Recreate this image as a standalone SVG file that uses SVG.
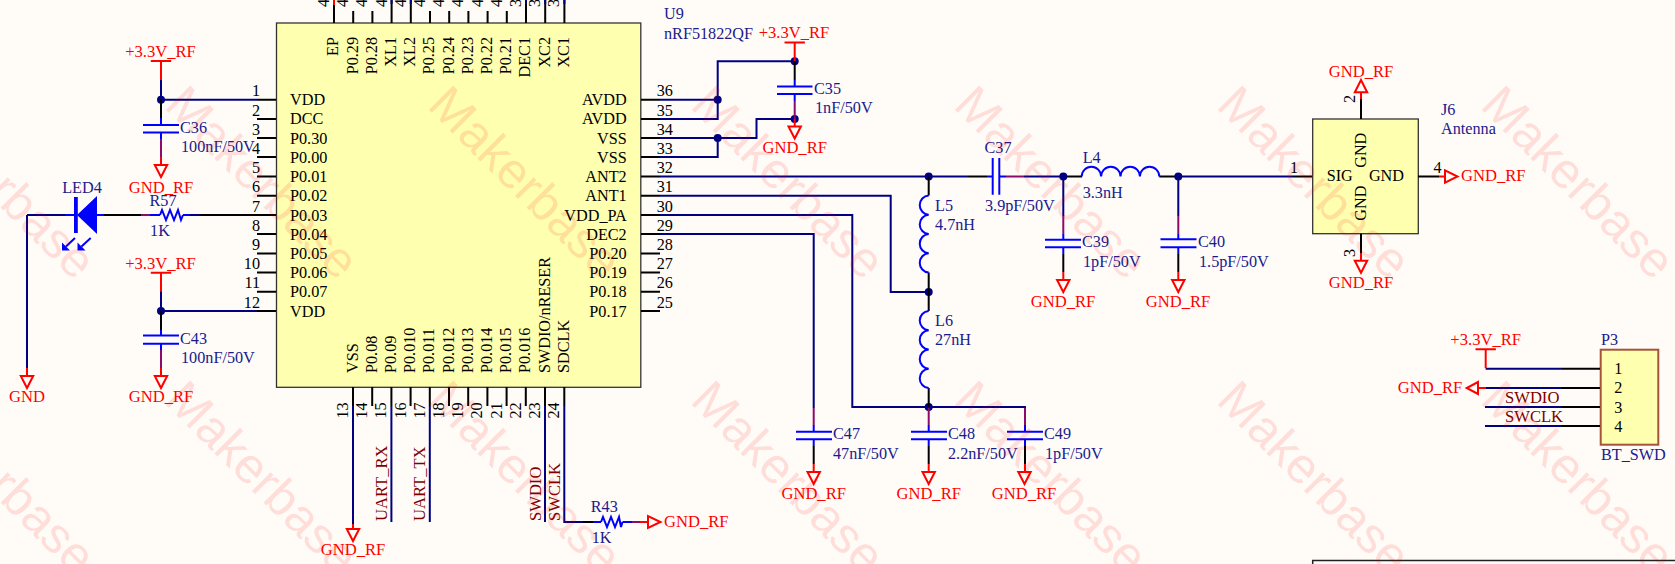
<svg xmlns="http://www.w3.org/2000/svg" width="1675" height="564" viewBox="0 0 1675 564">
<style>
text{font-family:"Liberation Serif","Times New Roman",serif;font-size:16.2px}
.n{fill:#000}
.d{fill:#1a1a8c}
.r{fill:#f00;font-size:16.6px}
.l{fill:#800000;font-size:16.6px}
.e{text-anchor:end}
.c{text-anchor:middle}
.wm{font-family:"Liberation Sans",Arial,sans-serif;font-size:50px;fill:#f00;fill-opacity:.12}
.W,.P,.B,.M,.R,.tri{fill:none;stroke-width:2}
.W{stroke:#000080}
.P{stroke:#000}
.B{stroke:#00f}
.M{stroke:#8b0a6a}
.R,.tri{stroke:#f00}
.box{fill:#ffffb0;stroke:#333;stroke-width:1.3}
.j{fill:#000080}
.f{fill:#00f}
</style>
<defs>
<g id="gnd"><path class="tri" d="M-6.2 0H6.2L0 12Z"/></g>
<g id="vcc"><path class="R" d="M-10.2 0H10.2M0 0V19"/></g>
</defs>
<rect width="1675" height="564" fill="#fffcf8"/>

<g id="U9">
<rect class="box" x="276.5" y="23" width="364.3" height="364.3"/>
<path class="P" d="M276 99.7H257M276 119H257M276 138H257M276 157H257M276 176.5H257M276 195.7H257M276 215H257M276 234H257M276 253.5H257M276 272.5H257M276 291.7H257M276 311H257"/>
<path class="P" d="M641 99.7H660M641 119H660M641 138H660M641 157H660M641 176.5H660M641 195.7H660M641 215H660M641 234H660M641 253.5H660M641 272.5H660M641 291.7H660M641 311H660"/>
<path class="P" d="M334 23V0M353.2 23V11M372.4 23V11M391.6 23V0M410.8 23V0M430 23V11M449.2 23V11M468.4 23V11M487.6 23V11M506.8 23V11M526 23V0M545.2 23V0M564.4 23V0"/>
<path class="R" d="M334 0V5"/>
<path class="W" d="M391.6 0V4M410.8 0V4M526 0V4M545.2 0V4M564.4 0V4"/>
<path class="P" d="M353 387V406M372.2 387V406M391.4 387V406M410.6 387V406M429.8 387V406M449 387V406M468.2 387V406M487.4 387V406M506.6 387V406M525.8 387V406M545 387V406M564.3 387V406"/>
<text class="d" x="664" y="19">U9</text><text class="d" x="664" y="39">nRF51822QF</text>
<g class="n">
<text x="290" y="105">VDD</text><text x="290" y="124.3">DCC</text><text x="290" y="143.5">P0.30</text><text x="290" y="162.5">P0.00</text><text x="290" y="182">P0.01</text><text x="290" y="201">P0.02</text><text x="290" y="220.5">P0.03</text><text x="290" y="239.5">P0.04</text><text x="290" y="259">P0.05</text><text x="290" y="278">P0.06</text><text x="290" y="297">P0.07</text><text x="290" y="316.5">VDD</text>
<text class="e" x="626.7" y="105">AVDD</text><text class="e" x="626.7" y="124.3">AVDD</text><text class="e" x="626.7" y="143.5">VSS</text><text class="e" x="626.7" y="162.5">VSS</text><text class="e" x="626.7" y="182">ANT2</text><text class="e" x="626.7" y="201">ANT1</text><text class="e" x="626.7" y="220.5">VDD_PA</text><text class="e" x="626.7" y="239.5">DEC2</text><text class="e" x="626.7" y="259">P0.20</text><text class="e" x="626.7" y="278">P0.19</text><text class="e" x="626.7" y="297">P0.18</text><text class="e" x="626.7" y="316.5">P0.17</text>
<text class="e" x="260" y="96">1</text><text class="e" x="260" y="115.5">2</text><text class="e" x="260" y="134.5">3</text><text class="e" x="260" y="153.5">4</text><text class="e" x="260" y="173">5</text><text class="e" x="260" y="192">6</text><text class="e" x="260" y="211.5">7</text><text class="e" x="260" y="230.5">8</text><text class="e" x="260" y="250">9</text><text class="e" x="260" y="269">10</text><text class="e" x="260" y="288">11</text><text class="e" x="260" y="307.5">12</text>
<text x="656.7" y="96">36</text><text x="656.7" y="115.5">35</text><text x="656.7" y="134.5">34</text><text x="656.7" y="153.5">33</text><text x="656.7" y="173">32</text><text x="656.7" y="192">31</text><text x="656.7" y="211.5">30</text><text x="656.7" y="230.5">29</text><text x="656.7" y="250">28</text><text x="656.7" y="269">27</text><text x="656.7" y="288">26</text><text x="656.7" y="307.5">25</text>
<text class="e" transform="translate(338.3 37) rotate(-90)">EP</text><text class="e" transform="translate(357.5 37) rotate(-90)">P0.29</text><text class="e" transform="translate(376.7 37) rotate(-90)">P0.28</text><text class="e" transform="translate(395.9 37) rotate(-90)">XL1</text><text class="e" transform="translate(415.1 37) rotate(-90)">XL2</text><text class="e" transform="translate(434.3 37) rotate(-90)">P0.25</text><text class="e" transform="translate(453.5 37) rotate(-90)">P0.24</text><text class="e" transform="translate(472.7 37) rotate(-90)">P0.23</text><text class="e" transform="translate(491.9 37) rotate(-90)">P0.22</text><text class="e" transform="translate(511.1 37) rotate(-90)">P0.21</text><text class="e" transform="translate(530.3 37) rotate(-90)">DEC1</text><text class="e" transform="translate(549.5 37) rotate(-90)">XC2</text><text class="e" transform="translate(568.7 37) rotate(-90)">XC1</text>
<text transform="translate(357.6 373) rotate(-90)">VSS</text><text transform="translate(376.8 373) rotate(-90)">P0.08</text><text transform="translate(396 373) rotate(-90)">P0.09</text><text transform="translate(415.2 373) rotate(-90)">P0.010</text><text transform="translate(434.4 373) rotate(-90)">P0.011</text><text transform="translate(453.6 373) rotate(-90)">P0.012</text><text transform="translate(472.8 373) rotate(-90)">P0.013</text><text transform="translate(492 373) rotate(-90)">P0.014</text><text transform="translate(511.2 373) rotate(-90)">P0.015</text><text transform="translate(530.4 373) rotate(-90)">P0.016</text><text transform="translate(549.6 373) rotate(-90)">SWDIO/nRESER</text><text transform="translate(568.9 373) rotate(-90)">SDCLK</text>
<text transform="translate(348 418.5) rotate(-90)">13</text><text transform="translate(367.2 418.5) rotate(-90)">14</text><text transform="translate(386.4 418.5) rotate(-90)">15</text><text transform="translate(405.6 418.5) rotate(-90)">16</text><text transform="translate(424.8 418.5) rotate(-90)">17</text><text transform="translate(444 418.5) rotate(-90)">18</text><text transform="translate(463.2 418.5) rotate(-90)">19</text><text transform="translate(482.4 418.5) rotate(-90)">20</text><text transform="translate(501.6 418.5) rotate(-90)">21</text><text transform="translate(520.8 418.5) rotate(-90)">22</text><text transform="translate(540 418.5) rotate(-90)">23</text><text transform="translate(559.3 418.5) rotate(-90)">24</text>
<text transform="translate(329 7) rotate(-90)">4</text><text transform="translate(348.2 7) rotate(-90)">4</text><text transform="translate(367.4 7) rotate(-90)">4</text><text transform="translate(386.6 7) rotate(-90)">4</text><text transform="translate(405.8 7) rotate(-90)">4</text><text transform="translate(425 7) rotate(-90)">4</text><text transform="translate(444.2 7) rotate(-90)">4</text><text transform="translate(463.4 7) rotate(-90)">4</text><text transform="translate(482.6 7) rotate(-90)">4</text><text transform="translate(501.8 7) rotate(-90)">4</text><text transform="translate(521 7) rotate(-90)">3</text><text transform="translate(540.2 7) rotate(-90)">3</text><text transform="translate(559.4 7) rotate(-90)">3</text>
</g>
</g>

<g id="connectors">
<path class="W" d="M161 80V99.7H257M161 291V311H257"/>
<path class="W" d="M660 99.7H717.7M660 119H717.7V61.3H794.7M660 138H756.5V119H794.7M660 157H717.7V138"/>
<path class="W" d="M660 176.5H968M1024 176.5H1063.3M1063.3 176.5V216M1178.3 176.5H1293M1178.3 176.5V216"/>
<path class="P" d="M968 176.5H987M1063.3 176.5H1082M1159.3 176.5H1178.3M1293 176.5H1313"/>
<path class="M" d="M1006 176.5H1024"/>
<path class="W" d="M660 195.7H890.7V292H928.7M660 215H852.3V407H1025V408M660 234H813.7V408"/>
<path class="W" d="M27 215H65M27 215V368M353 406V524M391.4 406V522M429.8 406V522M545 406V522M564.3 406V522H583"/>
<path class="P" d="M583 522H593M104 215H141M200 215H257"/>
<path class="W" d="M190 215H200"/>
<path class="R" d="M27 368V376M353 524V529M640 522H648"/>
<path class="M" d="M141 215H150M632 522H640"/>
<path class="B" d="M150 215H160M183 215H190M593 522H601M622.5 522H632"/>
<path class="W" d="M1485 388H1562M1485 407H1562M1485 426H1562M1485.7 368.7H1562"/>
<path class="R" d="M1478 388H1486"/>
<circle class="j" cx="161" cy="99.7" r="4"/><circle class="j" cx="161" cy="311" r="4"/><circle class="j" cx="717.7" cy="99.7" r="4"/><circle class="j" cx="717.7" cy="138" r="4"/><circle class="j" cx="794.7" cy="61.3" r="4"/><circle class="j" cx="794.7" cy="119" r="4"/><circle class="j" cx="928.7" cy="176.5" r="4"/><circle class="j" cx="1063.3" cy="176.5" r="4"/><circle class="j" cx="1178.3" cy="176.5" r="4"/><circle class="j" cx="928.7" cy="292" r="4"/><circle class="j" cx="928.7" cy="407" r="4"/>
</g>

<g id="C36"><use href="#vcc" x="161" y="61"/><path class="P" d="M161 99.7V118"/><path class="B" d="M161 118V125M161 132.5V139M143 125H179M143 132.5H179"/><path class="M" d="M161 139V157"/><path class="R" d="M161 157V165"/><use href="#gnd" x="161" y="165"/>
<text class="r c" x="160.5" y="57">+3.3V_RF</text><text class="r c" x="161" y="193">GND_RF</text><text class="d" x="180" y="132.5">C36</text><text class="d" x="181" y="152">100nF/50V</text></g>

<g id="C43"><use href="#vcc" x="161" y="272.7"/><path class="P" d="M161 311V330"/><path class="B" d="M161 330V335.5M161 343.7V350M143 335.5H179M143 343.7H179"/><path class="M" d="M161 350V368"/><path class="R" d="M161 368V376"/><use href="#gnd" x="161" y="376"/>
<text class="r c" x="160.5" y="268.5">+3.3V_RF</text><text class="r c" x="161" y="402">GND_RF</text><text class="d" x="180" y="343.6">C43</text><text class="d" x="181" y="363">100nF/50V</text></g>

<g id="LED4"><path class="B" d="M65 215H76M97 215H104"/><rect class="f" x="74" y="197" width="3.8" height="36"/><path class="f" d="M77 215L97 196V234Z"/>
<path class="B" d="M75 238L66 246.5M90.7 238L81.5 246.5"/><path class="f" d="M62 250.5L62 242.5L70 250.5ZM77.5 250.5L77.5 242.5L85.5 250.5Z"/>
<text class="d c" x="82" y="193">LED4</text></g>

<g id="R57"><path class="B" d="M160 215L162 210L166 220L170 210L174 220L178 210L181 220L183 215"/><text class="d c" x="163" y="206">R57</text><text class="d c" x="160" y="236">1K</text></g>

<g id="GND1"><use href="#gnd" x="27" y="376"/><text class="r c" x="27" y="402">GND</text></g>
<g id="GND2"><use href="#gnd" x="353" y="529"/><text class="r c" x="353" y="555">GND_RF</text></g>

<g id="nets"><text class="l" transform="translate(387 521) rotate(-90)">UART_RX</text><text class="l" transform="translate(425.3 521) rotate(-90)">UART_TX</text><text class="l" transform="translate(540.5 521) rotate(-90)">SWDIO</text><text class="l" transform="translate(559.5 521) rotate(-90)">SWCLK</text></g>

<g id="R43"><path class="B" d="M601 522L603 517L607 527L611 517L615 527L619 517L621 527L622.5 522"/><text class="d c" x="604.3" y="512">R43</text><text class="d c" x="601.6" y="543">1K</text>
<path class="tri" d="M648 516V528L660.5 522Z"/><text class="r" x="664" y="527">GND_RF</text></g>

<g id="C35"><use href="#vcc" x="794.7" y="42.5"/><path class="P" d="M794.7 61.3V80"/><path class="B" d="M794.7 80V86.5M794.7 94V101M777 86.5H812.5M777 94H812.5"/><path class="M" d="M794.7 101V119"/><path class="R" d="M794.7 119V126.5"/><use href="#gnd" x="794.7" y="126.5"/>
<text class="r c" x="794" y="38">+3.3V_RF</text><text class="r c" x="794.7" y="152.5">GND_RF</text><text class="d" x="814" y="93.7">C35</text><text class="d" x="815" y="113">1nF/50V</text></g>

<g id="C37"><path class="B" d="M987 176.5H992.7M999.3 176.5H1006M992.7 158V194.7M999.3 158V194.7"/><text class="d c" x="998" y="152.6">C37</text><text class="d" x="985" y="211">3.9pF/50V</text></g>

<g id="L4"><path class="B" d="M1081.7 176.5a9.7 9.7 0 0 1 19.4 0a9.7 9.7 0 0 1 19.4 0a9.7 9.7 0 0 1 19.4 0a9.7 9.7 0 0 1 19.4 0"/><text class="d" x="1082.7" y="162.7">L4</text><text class="d" x="1082.7" y="198">3.3nH</text></g>

<g id="L5"><path class="P" d="M928.7 176.5V195.5M928.7 272.5V292"/><path class="B" d="M928.7 195.5a9.65 9.65 0 0 0 0 19.25a9.65 9.65 0 0 0 0 19.25a9.65 9.65 0 0 0 0 19.25a9.65 9.65 0 0 0 0 19.25"/><text class="d" x="935" y="211">L5</text><text class="d" x="935" y="230">4.7nH</text></g>

<g id="L6"><path class="P" d="M928.7 292V311M928.7 388V407"/><path class="B" d="M928.7 311a9.65 9.65 0 0 0 0 19.25a9.65 9.65 0 0 0 0 19.25a9.65 9.65 0 0 0 0 19.25a9.65 9.65 0 0 0 0 19.25"/><text class="d" x="935" y="326.3">L6</text><text class="d" x="935" y="345">27nH</text></g>

<g id="C39"><path class="M" d="M1063.3 216V234"/><path class="B" d="M1063.3 234V239.7M1063.3 247.3V254M1045 239.7H1081M1045 247.3H1081"/><path class="P" d="M1063.3 254V272"/><path class="R" d="M1063.3 272V280"/><use href="#gnd" x="1063.3" y="280"/><text class="r c" x="1063" y="306.6">GND_RF</text><text class="d" x="1082" y="247">C39</text><text class="d" x="1083" y="267">1pF/50V</text></g>

<g id="C40"><path class="M" d="M1178.3 216V234"/><path class="B" d="M1178.3 234V239.3M1178.3 247.3V254M1160.5 239.3H1196.5M1160.5 247.3H1196.5"/><path class="P" d="M1178.3 254V272"/><path class="R" d="M1178.3 272V280"/><use href="#gnd" x="1178.3" y="280"/><text class="r c" x="1178" y="306.6">GND_RF</text><text class="d" x="1198" y="247">C40</text><text class="d" x="1199" y="267">1.5pF/50V</text></g>

<g id="C47"><path class="M" d="M813.7 408V425"/><path class="B" d="M813.7 425V431.7M813.7 439.3V446M796 431.7H832M796 439.3H832"/><path class="P" d="M813.7 446V464"/><path class="R" d="M813.7 464V472"/><use href="#gnd" x="813.7" y="472"/><text class="r c" x="813.7" y="499">GND_RF</text><text class="d" x="833" y="439">C47</text><text class="d" x="833" y="459">47nF/50V</text></g>

<g id="C48"><path class="M" d="M928.7 408V425"/><path class="B" d="M928.7 425V431.7M928.7 439.3V446M911 431.7H947M911 439.3H947"/><path class="P" d="M928.7 446V464"/><path class="R" d="M928.7 464V472"/><use href="#gnd" x="928.7" y="472"/><text class="r c" x="928.7" y="499">GND_RF</text><text class="d" x="948" y="439">C48</text><text class="d" x="948" y="459">2.2nF/50V</text></g>

<g id="C49"><path class="M" d="M1025 408V425"/><path class="B" d="M1025 425V431.7M1025 439.3V446M1007 431.7H1043M1007 439.3H1043"/><path class="P" d="M1025 446V464"/><path class="R" d="M1025 464V472"/><use href="#gnd" x="1024.5" y="472"/><text class="r c" x="1024" y="499">GND_RF</text><text class="d" x="1044" y="439">C49</text><text class="d" x="1045" y="459">1pF/50V</text></g>

<g id="J6"><rect class="box" x="1312.7" y="119" width="105.6" height="114.7"/>
<path class="P" d="M1361 119V99M1361 233.7V253M1418 176.5H1439"/><path class="R" d="M1361 99V92M1361 253V260.7M1439 176.5H1445"/>
<path class="tri" d="M1354.8 92.3H1367.2L1361 80Z"/><use href="#gnd" x="1361" y="260.7"/><path class="tri" d="M1445 170.3V182.7L1457.5 176.5Z"/>
<g class="n"><text x="1290" y="172.6">1</text><text transform="translate(1355 103) rotate(-90)">2</text><text transform="translate(1355 257) rotate(-90)">3</text><text x="1433.5" y="172.6">4</text><text x="1326.7" y="181">SIG</text><text class="e" x="1404" y="181">GND</text><text class="e" transform="translate(1366 132.7) rotate(-90)">GND</text><text transform="translate(1366 220.7) rotate(-90)">GND</text></g>
<text class="r c" x="1361" y="77">GND_RF</text><text class="r c" x="1361" y="288">GND_RF</text><text class="r" x="1461" y="181">GND_RF</text>
<text class="d" x="1441" y="114.6">J6</text><text class="d" x="1441" y="134.3">Antenna</text></g>

<g id="P3"><rect x="1600.7" y="349.7" width="57.6" height="95" fill="#ffffb0" stroke="#a5533a" stroke-width="2"/>
<path class="P" d="M1562 368.7H1600M1562 388H1600M1562 407H1600M1562 426H1600"/>
<g class="n"><text class="c" x="1618.3" y="374">1</text><text class="c" x="1618.3" y="393">2</text><text class="c" x="1618.3" y="412.5">3</text><text class="c" x="1618.3" y="431.5">4</text></g>
<use href="#vcc" x="1485.7" y="349.3"/><path class="tri" d="M1478 382V394L1466.7 388Z"/>
<text class="r c" x="1485.7" y="345">+3.3V_RF</text><text class="r e" x="1462.3" y="393">GND_RF</text>
<text class="l" x="1505" y="403">SWDIO</text><text class="l" x="1505" y="422">SWCLK</text>
<text class="d" x="1601" y="345">P3</text><text class="d" x="1601" y="460">BT_SWD</text></g>

<g id="title-block"><path d="M1312.7 564V560.5H1675" fill="none" stroke="#222" stroke-width="1.5"/></g>

<g id="watermark">
<text class="wm" transform="translate(-100 107) rotate(45)">Makerbase</text><text class="wm" transform="translate(163 107) rotate(45)">Makerbase</text><text class="wm" transform="translate(426 107) rotate(45)">Makerbase</text><text class="wm" transform="translate(689 107) rotate(45)">Makerbase</text><text class="wm" transform="translate(952 107) rotate(45)">Makerbase</text><text class="wm" transform="translate(1215 107) rotate(45)">Makerbase</text><text class="wm" transform="translate(1479 107) rotate(45)">Makerbase</text>
<text class="wm" transform="translate(-100 402) rotate(45)">Makerbase</text><text class="wm" transform="translate(163 402) rotate(45)">Makerbase</text><text class="wm" transform="translate(426 402) rotate(45)">Makerbase</text><text class="wm" transform="translate(689 402) rotate(45)">Makerbase</text><text class="wm" transform="translate(952 402) rotate(45)">Makerbase</text><text class="wm" transform="translate(1215 402) rotate(45)">Makerbase</text><text class="wm" transform="translate(1479 402) rotate(45)">Makerbase</text>
</g>
</svg>
